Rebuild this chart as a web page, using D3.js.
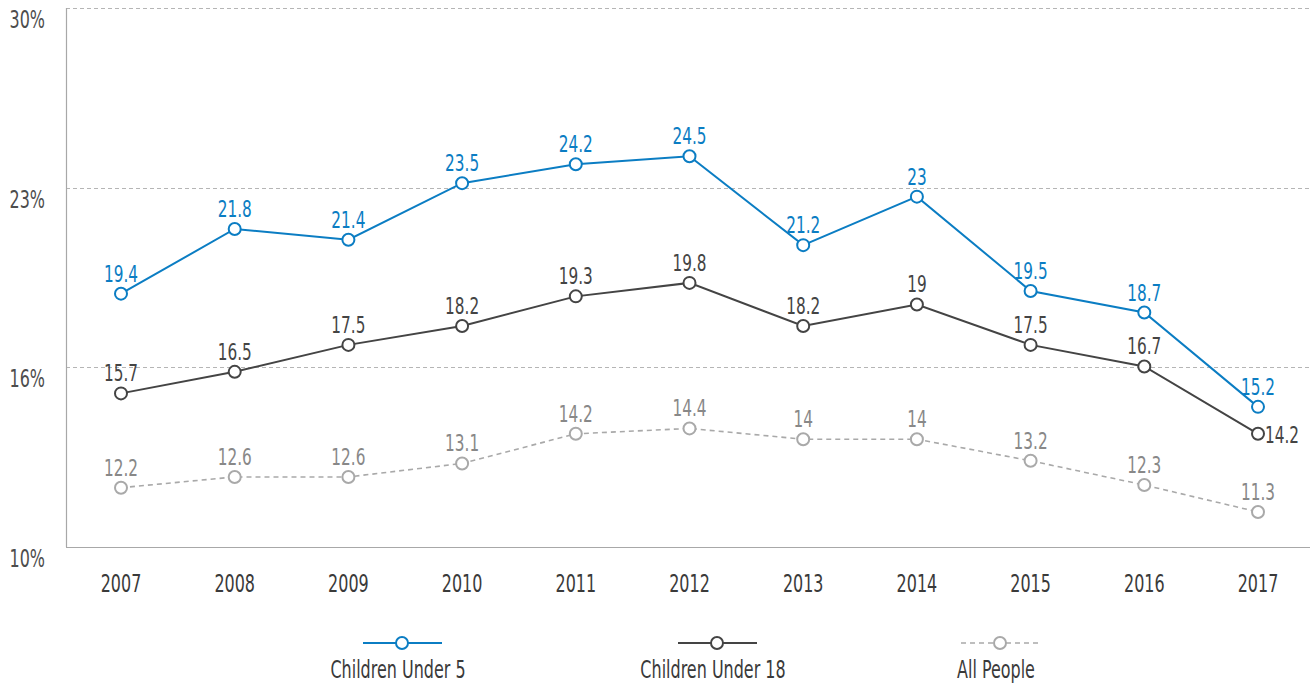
<!DOCTYPE html>
<html>
<head>
<meta charset="utf-8">
<script src="https://cdn.jsdelivr.net/npm/d3@7"></script>
<style>
  body { margin: 0; background: #fff; }
  text { font-family: "DejaVu Sans Condensed", "Liberation Sans Narrow", "Roboto", sans-serif; }
</style>
</head>
<body>
<div id="chart"></div>
<script>
// Chart data
var years = [2007, 2008, 2009, 2010, 2011, 2012, 2013, 2014, 2015, 2016, 2017];
var under5 = [19.4, 21.8, 21.4, 23.5, 24.2, 24.5, 21.2, 23, 19.5, 18.7, 15.2];
var under18 = [15.7, 16.5, 17.5, 18.2, 19.3, 19.8, 18.2, 19, 17.5, 16.7, 14.2];
var allPeople = [12.2, 12.6, 12.6, 13.1, 14.2, 14.4, 14, 14, 13.2, 12.3, 11.3];
var yTicks = [10, 16.667, 23.333, 30];
var seriesNames = ["Children Under 5", "Children Under 18", "All People"];

var svgWidth = 1314;
var svgHeight = 683;

var marginTop = 8;
var marginLeft = 66;
var marginRight = 4;
var plotBottom = 547;

// narrow the text horizontally to mimic a condensed face
var squeeze = 0.74;
var fontSize = 24;
var labelSize = 23;
function place(x, y) {
  return "translate(" + x + "," + y + ") scale(" + squeeze + ",1)";
}

var svg = d3.select("#chart")
  .append("svg")
  .attr("width", svgWidth)
  .attr("height", svgHeight);

var xScale = d3.scalePoint()
  .domain(years)
  .range([121, 1258]);

var yScale = d3.scaleLinear()
  .domain([10, 30])
  .range([plotBottom, marginTop]);

// gridlines (dashed)
svg.append("g")
  .selectAll("line")
  .data(yTicks.slice(1))
  .enter()
  .append("line")
  .attr("x1", marginLeft)
  .attr("x2", svgWidth - marginRight)
  .attr("y1", d => Math.round(yScale(d)) + 0.5)
  .attr("y2", d => Math.round(yScale(d)) + 0.5)
  .attr("stroke", "#b5b5b5")
  .attr("stroke-dasharray", "4,3");

// axes lines
svg.append("line")
  .attr("x1", marginLeft + 0.5).attr("x2", marginLeft + 0.5)
  .attr("y1", marginTop).attr("y2", plotBottom)
  .attr("stroke", "#a8a8a8").attr("stroke-width", 1.2);
svg.append("line")
  .attr("x1", marginLeft).attr("x2", svgWidth - marginRight)
  .attr("y1", plotBottom + 0.5).attr("y2", plotBottom + 0.5)
  .attr("stroke", "#a8a8a8").attr("stroke-width", 1.2);

// y tick labels
svg.append("g")
  .selectAll("text")
  .data(yTicks)
  .enter()
  .append("text")
  .attr("transform", d => place(45, yScale(d) + 20))
  .attr("text-anchor", "end")
  .attr("font-size", fontSize)
  .attr("fill", "#4d4d4d")
  .text(d => Math.floor(d) + "%");

// x labels
svg.append("g")
  .selectAll("text")
  .data(years)
  .enter()
  .append("text")
  .attr("transform", d => place(xScale(d), 592))
  .attr("text-anchor", "middle")
  .attr("font-size", fontSize)
  .attr("fill", "#3a3a3a")
  .text(d => d);

var series = [
  { name: seriesNames[0], values: under5, color: "#0b7dc3", labelColor: "#0b7dc3", dash: null, width: 2 },
  { name: seriesNames[1], values: under18, color: "#444444", labelColor: "#444444", dash: null, width: 2 },
  { name: seriesNames[2], values: allPeople, color: "#a9a9a9", labelColor: "#888888", dash: "5,4", width: 1.6 }
];

var line = d3.line()
  .x((d, i) => xScale(years[i]))
  .y(d => yScale(d));

// draw back to front
series.slice().reverse().forEach(function(s) {
  var g = svg.append("g");
  g.append("path")
    .attr("d", line(s.values))
    .attr("fill", "none")
    .attr("stroke", s.color)
    .attr("stroke-width", s.width)
    .attr("stroke-dasharray", s.dash);

  g.selectAll("circle")
    .data(s.values)
    .enter()
    .append("circle")
    .attr("cx", (d, i) => xScale(years[i]))
    .attr("cy", d => yScale(d))
    .attr("r", 6)
    .attr("fill", "#fff")
    .attr("stroke", s.color)
    .attr("stroke-width", 2);

  // last point of Children Under 18 has its label on the right
  function isSide(i) {
    return s.name === "Children Under 18" && i === years.length - 1;
  }

  g.selectAll("text")
    .data(s.values)
    .enter()
    .append("text")
    .attr("transform", function(d, i) {
      if (isSide(i)) return place(xScale(years[i]) + 7, yScale(d) + 9);
      return place(xScale(years[i]), yScale(d) - 12);
    })
    .attr("text-anchor", (d, i) => isSide(i) ? "start" : "middle")
    .attr("font-size", labelSize)
    .attr("fill", s.labelColor)
    .text(d => d);
});

// legend
var legendX = [402, 717, 1000];
var legend = svg.append("g");
series.forEach(function(s, i) {
  var lg = legend.append("g").attr("transform", "translate(" + legendX[i] + ",643)");
  lg.append("line")
    .attr("x1", -39).attr("x2", 40)
    .attr("stroke", s.color)
    .attr("stroke-width", s.width)
    .attr("stroke-dasharray", s.dash);
  lg.append("circle")
    .attr("r", 6)
    .attr("fill", "#fff")
    .attr("stroke", s.color)
    .attr("stroke-width", 2);
  lg.append("text")
    .attr("transform", place(-4, 35))
    .attr("text-anchor", "middle")
    .attr("font-size", fontSize)
    .attr("fill", "#3a3a3a")
    .text(s.name);
});
</script>
</body>
</html>
